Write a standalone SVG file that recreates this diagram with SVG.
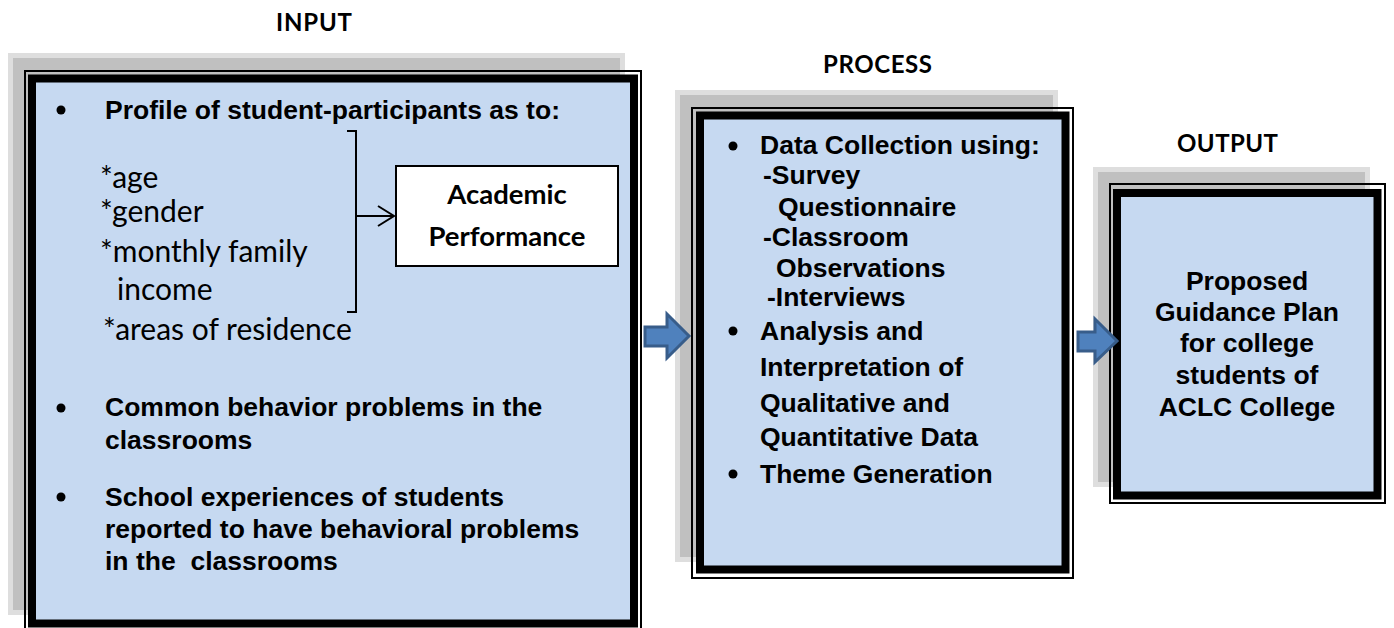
<svg xmlns="http://www.w3.org/2000/svg" width="1394" height="628" viewBox="0 0 1394 628">
  <defs>
    <style>
      .shadow { fill: #c0c0c0; stroke: #dedede; stroke-width: 5; }
      .frame-thin { fill: none; stroke: #000; stroke-width: 2; }
      .frame-thick { fill: #c6d9f1; stroke: #000; stroke-width: 8; }
      .head { font-family: Lato, "Liberation Sans", sans-serif; font-weight: bold; font-size: 24px; fill: #000; }
      .body { font-family: "Liberation Sans", Arial, sans-serif; font-weight: bold; font-size: 26.5px; fill: #000; white-space: pre; }
      .cal { font-family: Lato, "Liberation Sans", sans-serif; font-size: 30px; fill: #000; }
      .calb { font-family: Lato, "Liberation Sans", sans-serif; font-weight: bold; font-size: 27.5px; fill: #000; }
      .bullet { fill: #000; }
      .flow { fill: #4f81bd; stroke: #385d8a; stroke-width: 3; stroke-linejoin: miter; }
    </style>
  </defs>

  <rect width="1394" height="628" fill="#fff"/>

  <!-- headings -->
  <text class="head" x="314" y="31" text-anchor="middle" textLength="76">INPUT</text>
  <text class="head" x="877.5" y="73" text-anchor="middle" textLength="109">PROCESS</text>
  <text class="head" x="1227.5" y="152" text-anchor="middle" textLength="101">OUTPUT</text>

  <!-- INPUT block -->
  <g id="input">
    <rect class="shadow" x="10.5" y="55.5" width="612" height="557"/>
    <rect class="frame-thin" x="25" y="71" width="616" height="570"/>
    <rect class="frame-thick" x="32" y="78.5" width="602" height="545"/>

    <circle class="bullet" cx="61" cy="110" r="4.5"/>
    <text class="body" x="105" y="119">Profile of student-participants as to:</text>

    <text class="cal" x="100" y="188">*age</text>
    <text class="cal" x="100" y="222">*gender</text>
    <text class="cal" x="100" y="262">*monthly family</text>
    <text class="cal" x="117" y="300">income</text>
    <text class="cal" x="103" y="340">*areas of residence</text>

    <!-- bracket grouping the profile items -->
    <path d="M347 131 H356 V312 H347" fill="none" stroke="#000" stroke-width="2"/>

    <circle class="bullet" cx="61" cy="408" r="4.5"/>
    <text class="body" x="105" y="416">Common behavior problems in the</text>
    <text class="body" x="105" y="449">classrooms</text>

    <circle class="bullet" cx="61" cy="497" r="4.5"/>
    <text class="body" x="105" y="506">School experiences of students</text>
    <text class="body" x="105" y="538">reported to have behavioral problems</text>
    <text class="body" x="105" y="570" xml:space="preserve">in the  classrooms</text>
  </g>

  <g id="academic-performance">
    <rect x="396" y="166" width="222" height="100" fill="#fff" stroke="#000" stroke-width="2"/>
    <text class="calb" x="507" y="204" text-anchor="middle">Academic</text>
    <text class="calb" x="507" y="246" text-anchor="middle">Performance</text>
  </g>

  <!-- PROCESS block -->
  <g id="process">
    <rect class="shadow" x="677.5" y="92.5" width="378" height="467"/>
    <rect class="frame-thin" x="692" y="108" width="381" height="470"/>
    <rect class="frame-thick" x="700" y="115.5" width="365.5" height="454"/>

    <circle class="bullet" cx="733" cy="146" r="4.5"/>
    <text class="body" x="760" y="154">Data Collection using:</text>
    <text class="body" x="763" y="184">-Survey</text>
    <text class="body" x="778" y="216">Questionnaire</text>
    <text class="body" x="763" y="246">-Classroom</text>
    <text class="body" x="776" y="277">Observations</text>
    <text class="body" x="767" y="306">-Interviews</text>
    <circle class="bullet" cx="733" cy="331" r="4.5"/>
    <text class="body" x="760" y="340">Analysis and</text>
    <text class="body" x="760" y="376">Interpretation of</text>
    <text class="body" x="760" y="412">Qualitative and</text>
    <text class="body" x="760" y="446">Quantitative Data</text>
    <circle class="bullet" cx="733" cy="474" r="4.5"/>
    <text class="body" x="760" y="483">Theme Generation</text>
  </g>

  <!-- OUTPUT block -->
  <g id="output">
    <rect class="shadow" x="1095.5" y="169.5" width="272" height="315"/>
    <rect class="frame-thin" x="1110" y="184" width="275" height="319"/>
    <rect class="frame-thick" x="1117" y="193" width="260.5" height="302.5"/>

    <text class="body" x="1247" y="290" text-anchor="middle">Proposed</text>
    <text class="body" x="1247" y="321" text-anchor="middle">Guidance Plan</text>
    <text class="body" x="1247" y="352" text-anchor="middle">for college</text>
    <text class="body" x="1247" y="384" text-anchor="middle">students of</text>
    <text class="body" x="1247" y="416" text-anchor="middle">ACLC College</text>
  </g>

  <!-- connectors -->
  <g id="connectors">
    <path d="M356 216 H394 M378 206 L394 216 L378 226" fill="none" stroke="#000" stroke-width="2"/>
    <path class="flow" d="M645 327 H667 V314 L689 336 L667 358 V346 H645 Z"/>
    <path class="flow" d="M1078 332 H1095 V319 L1117 341 L1095 362 V351 H1078 Z"/>
  </g>
</svg>
